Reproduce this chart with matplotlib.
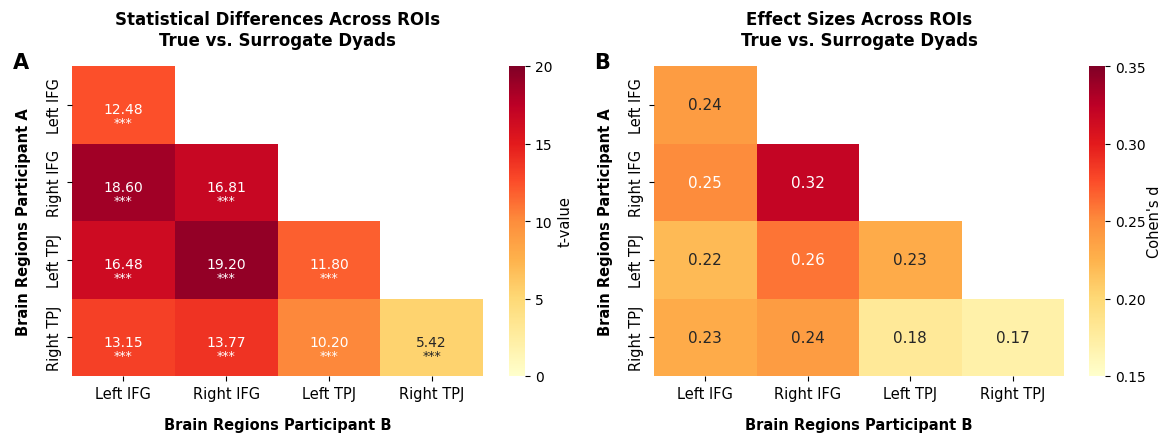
import numpy as np
import matplotlib
matplotlib.use('Agg')
import matplotlib.pyplot as plt
import seaborn as sns

rois = ['Left IFG', 'Right IFG', 'Left TPJ', 'Right TPJ']

# lower triangle incl. diagonal, rows = participant A, cols = participant B
t_vals = np.array([
    [12.48, np.nan, np.nan, np.nan],
    [18.60, 16.81, np.nan, np.nan],
    [16.48, 19.20, 11.80, np.nan],
    [13.15, 13.77, 10.20, 5.42],
])
sig = [
    ['***', '', '', ''],
    ['***', '***', '', ''],
    ['***', '***', '***', ''],
    ['***', '***', '***', '***'],
]
d_vals = np.array([
    [0.24, np.nan, np.nan, np.nan],
    [0.25, 0.32, np.nan, np.nan],
    [0.22, 0.26, 0.23, np.nan],
    [0.23, 0.24, 0.18, 0.17],
])

mask = np.triu(np.ones((4, 4), dtype=bool), k=1)

fig = plt.figure(figsize=(11.63, 4.35), dpi=100)
W, H = 1163., 435.
def box(x0, y0, x1, y1):
    return [x0 / W, 1 - y1 / H, (x1 - x0) / W, (y1 - y0) / H]

ax1 = fig.add_axes(box(72, 67, 483, 377))
cax1 = fig.add_axes(box(509, 67, 525, 377))
ax2 = fig.add_axes(box(654, 67, 1064, 377))
cax2 = fig.add_axes(box(1089, 67, 1105, 377))

# panel A: t-values
sns.heatmap(t_vals, mask=mask, cmap='YlOrRd', vmin=0, vmax=20, ax=ax1, cbar_ax=cax1,
            xticklabels=rois, yticklabels=rois, annot=False)
for i in range(4):
    for j in range(4):
        if mask[i, j]:
            continue
        v = t_vals[i, j]
        col = 'white' if v > 8 else '#262626'
        ax1.text(j + 0.5, i + 0.56, '%.2f' % v, ha='center', va='center', fontsize=10, color=col)
        ax1.text(j + 0.5, i + 0.73, sig[i][j], ha='center', va='center', fontsize=9, color=col)
cax1.set_yticks([0, 5, 10, 15, 20])
cax1.set_ylabel('t-value', fontsize=10.5, labelpad=4)
cax1.tick_params(labelsize=10)

# panel B: effect sizes
sns.heatmap(d_vals, mask=mask, cmap='YlOrRd', vmin=0.15, vmax=0.35, ax=ax2, cbar_ax=cax2,
            xticklabels=rois, yticklabels=rois, annot=True, fmt='.2f',
            annot_kws={'fontsize': 11})
cax2.set_yticks([0.15, 0.20, 0.25, 0.30, 0.35])
cax2.set_ylabel("Cohen's d", fontsize=10.5, labelpad=1)
cax2.tick_params(labelsize=10)

for ax, title, letter in [(ax1, 'Statistical Differences Across ROIs\nTrue vs. Surrogate Dyads', 'A'),
                          (ax2, 'Effect Sizes Across ROIs\nTrue vs. Surrogate Dyads', 'B')]:
    ax.set_title(title, fontsize=12, fontweight='bold', pad=15)
    ax.set_xlabel('Brain Regions Participant B', fontsize=10.5, fontweight='bold', labelpad=12)
    ax.set_ylabel('Brain Regions Participant A', fontsize=10.5, fontweight='bold', labelpad=12)
    ax.tick_params(labelsize=10.5)
    plt.setp(ax.get_yticklabels(), rotation=90, va='center')
    ax.text(-0.145, 0.993, letter, transform=ax.transAxes, fontsize=15, fontweight='bold',
            va='baseline')

fig.savefig('out.png', dpi=100)
